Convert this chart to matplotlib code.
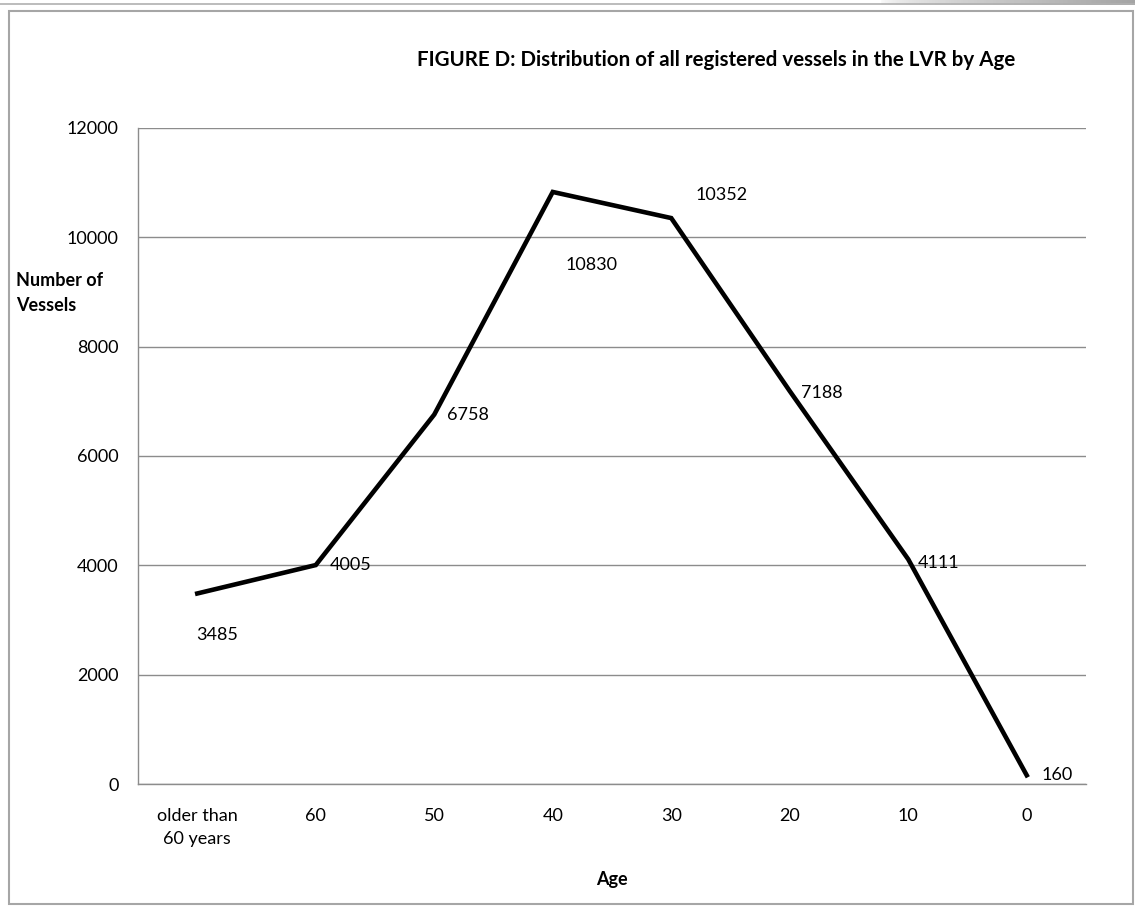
import numpy as np
import matplotlib.pyplot as plt
from matplotlib.patches import Rectangle
from matplotlib.lines import Line2D

plt.rcParams['font.family'] = ['Lato', 'DejaVu Sans']

categories = ['older than\n60 years', '60', '50', '40', '30', '20', '10', '0']
vessels = [3485, 4005, 6758, 10830, 10352, 7188, 4111, 160]
# label offsets (pixels) as placed in the original chart
label_dx = [20, 35, 34, 39, 50, 32, 30, 30]
label_dy = [-42, 0, 0, -73, 23, -2, -4, 0]

W, H = 1135, 909
fig = plt.figure(figsize=(W / 100, H / 100), dpi=100)
ax = fig.add_axes([0.1216, 0.1375, 0.8352, 0.7217])

xs = list(range(len(categories)))
ax.plot(xs, vessels, color='black', lw=3.3, solid_joinstyle='miter', zorder=3)

for x, v, dx, dy in zip(xs, vessels, label_dx, label_dy):
    ax.annotate(str(v), (x, v), xytext=(dx, dy), textcoords='offset pixels',
                ha='center', va='center', fontsize=13, zorder=4)

ax.set_xlim(-0.5, len(categories) - 0.5)
ax.set_ylim(0, 12000)
ax.set_yticks(range(0, 12001, 2000))
ax.set_xticks(xs)
ax.set_xticklabels(categories, fontsize=13, linespacing=1.55)
ax.tick_params(axis='both', length=0, labelsize=13)
ax.tick_params(axis='x', pad=17)
ax.tick_params(axis='y', pad=14)
ax.grid(axis='y', color='#8c8c8c', lw=1)
ax.set_axisbelow(True)
for s in ['top', 'right']:
    ax.spines[s].set_visible(False)
for s in ['left', 'bottom']:
    ax.spines[s].set_color('#8c8c8c')
    ax.spines[s].set_linewidth(1)

fig.text(716 / W, 1 - 60 / H, 'FIGURE D: Distribution of all registered vessels in the LVR by Age',
         ha='center', va='center', fontsize=14.8, fontweight='bold')
fig.text(0.014, 1 - 293 / H, 'Number of\nVessels', ha='left', va='center',
         fontsize=13, fontweight='bold', linespacing=1.55)
fig.text(612 / W, 1 - 880 / H, 'Age', ha='center', va='center', fontsize=13, fontweight='bold')

# outer chart border
fig.patches.append(Rectangle((9 / W, 5 / H), 1124 / W, 893 / H,
                             transform=fig.transFigure, fill=False,
                             edgecolor='#a6a6a6', lw=1.5))
# thin line and shaded strip along the very top of the page
fig.lines.append(Line2D([0, 1], [1 - 3.5 / H, 1 - 3.5 / H], transform=fig.transFigure,
                        color='#b0b0b0', lw=1.2))
band = fig.add_axes([880 / W, 1 - 5 / H, 1 - 880 / W, 5 / H])
band.imshow(np.linspace(0, 1, 200)[None, :] ** 0.4, cmap='Greys', vmin=0, vmax=2.2,
            aspect='auto', extent=(0, 1, 0, 1))
band.axis('off')

fig.savefig('out.png', dpi=100)
